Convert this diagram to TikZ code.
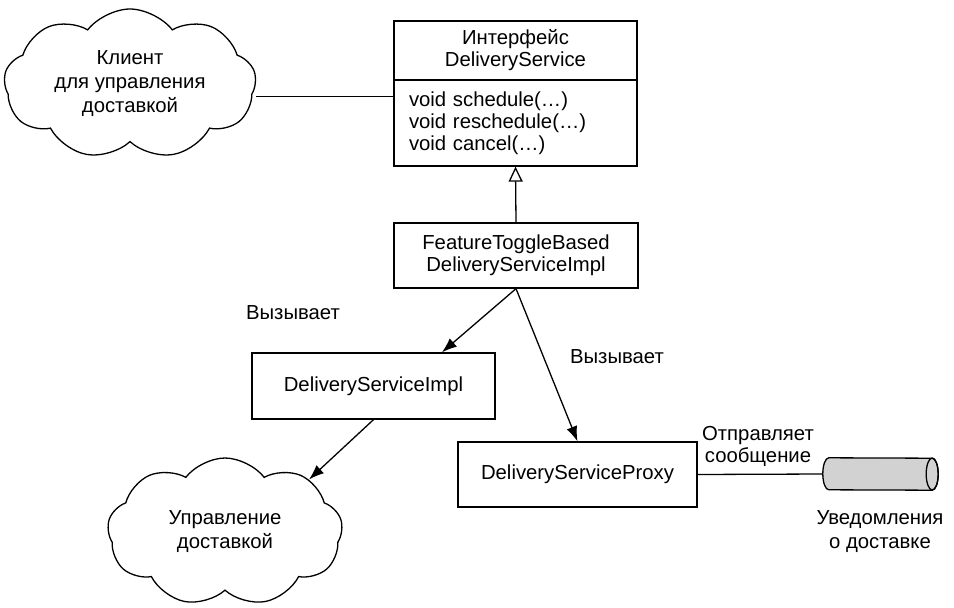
\documentclass[tikz,border=0pt]{standalone}
\usepackage{fontspec}
\setmainfont{Liberation Sans}
\usetikzlibrary{shapes.symbols,shapes.geometric,arrows.meta,calc}
\begin{document}
\begin{tikzpicture}[x=1pt,y=-1pt,
 every node/.style={font=\fontsize{20.3}{22}\selectfont, text=black},
 box/.style={draw, line width=1.3pt, minimum width=243pt, inner sep=0pt, align=center},
 cloudnode/.style={cloud, draw, line width=1.3pt, cloud puffs=9, cloud puff arc=105, cloud ignores aspect, align=center, inner sep=0pt, font=\fontsize{20.3}{24}\selectfont},
 conn/.style={line width=1.3pt},
 call/.style={conn, -{Latex[length=15pt,width=11pt]}},
 gen/.style={conn, -{Triangle[open,length=15pt,width=14pt,line width=1.3pt]}},
 lbl/.style={align=center, inner sep=0pt},
 cylbody/.style={draw, line width=1.3pt, fill=gray!35}
]
\fill[white] (0,0) rectangle (954,608);
\useasboundingbox (0,0) rectangle (954,608);

\node[cloudnode, minimum width=252pt, minimum height=150pt] (cl1) at (130,84) {Клиент\\для управления\\доставкой};
\node[box, minimum height=59pt] (iface) at (515.5,50.5) {Интерфейс\\DeliveryService};
\node[box, minimum height=86pt, align=left, text width=213pt, inner xsep=15pt] (imeth) at (515.5,123) {void schedule(…)\\void reschedule(…)\\void cancel(…)};
\node[box, minimum width=244pt, minimum height=65pt] (ft) at (516,255.5) {FeatureToggleBased\\DeliveryServiceImpl};
\node[box, minimum height=66pt] (dsi) at (373.5,386) {DeliveryServiceImpl};
\node[box, minimum width=239pt, minimum height=65pt] (dsp) at (577.5,474.5) {DeliveryServiceProxy};
\node[cloudnode, minimum width=235pt, minimum height=148pt] (cl2) at (225,532) {Управление\\доставкой};

% cylinder (message queue)
\node[minimum width=115pt, minimum height=32pt, inner sep=0pt] (cyl) at (880.5,474) {};
\path[cylbody] ([xshift=6pt]cyl.north west) arc[start angle=90, end angle=270, x radius=6pt, y radius=16pt]
  -- ([xshift=-6pt]cyl.south east) arc[start angle=270, end angle=450, x radius=6pt, y radius=16pt] -- cycle;
\draw[line width=1.3pt] ([xshift=-6pt]cyl.east) ellipse[x radius=6pt, y radius=16pt];

\node[lbl, font=\fontsize{20.3}{24}\selectfont] (uv) at (880,532) {Уведомления\\о доставке};

\node[lbl] (v1) at (293,313) {Вызывает};
\node[lbl] (v2) at (617,357) {Вызывает};
\node[lbl] (ot) at (758,446) {Отправляет\\сообщение};

\coordinate (j1) at ($(imeth.north west)+(0,17)$);
\draw[conn] (cl1.east |- j1) -- (j1);
\draw[gen] (ft.north) -- (imeth.south);
\coordinate (t1) at ($(dsi.north west)!0.78!(dsi.north east)$);
\draw[call] (ft.south) -- (t1);
\draw[call] (ft.south) -- (dsp.north);
\draw[call] (dsi.south) -- (cl2.32);
\draw[conn] (dsp.east) -- (cyl.west);
\end{tikzpicture}
\end{document}
